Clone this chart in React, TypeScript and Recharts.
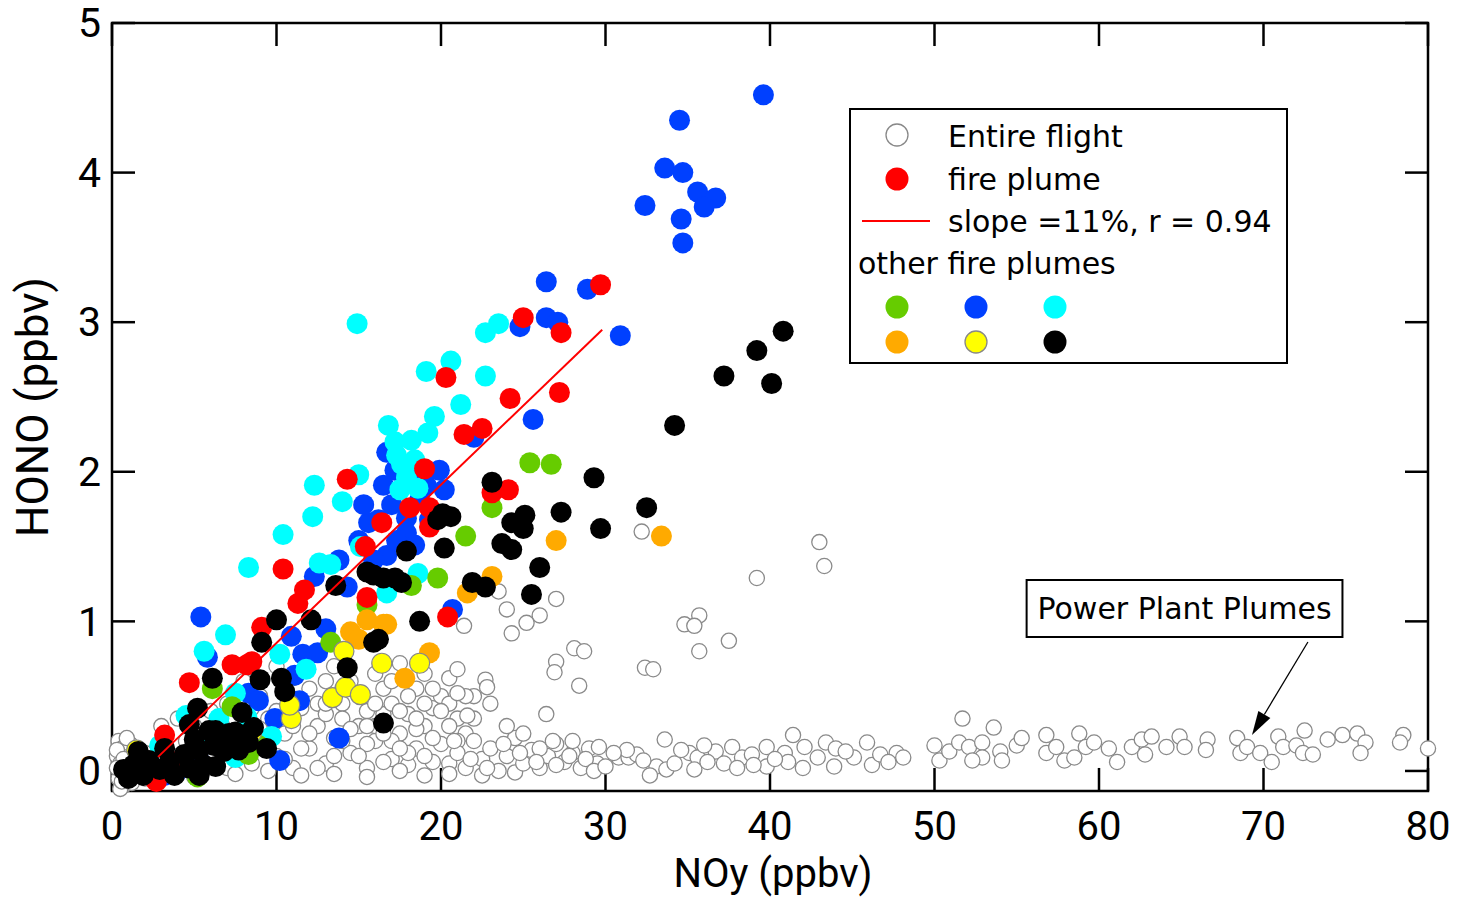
import React from 'react';
import { ScatterChart, Scatter, XAxis, YAxis, ReferenceLine, ReferenceArea, Legend } from 'recharts';

type P = [number, number];

const xTicks = [0, 10, 20, 30, 40, 50, 60, 70, 80];
const yTicks = [0, 1, 2, 3, 4, 5];
const Y_MIN = -0.134;

const entireFlight: P[] = [
  [0.4,0.2],[0.6,0.15],[0.3,0.1],[0.5,0.05],[0.6,0.0],[0.4,-0.05],[0.7,-0.1],[0.9,0.12],[1.0,0.05],[0.8,-0.03],[1.1,0.18],[0.3,0.14],[0.5,-0.12],[1.2,-0.08],[0.9,0.22],[1.4,0.1],[1.3,0.0],[0.7,0.08],[0.3,0.02],[0.6,-0.07],
  [2,0.12],[2.5,0.05],[3,0.18],[3.5,-0.02],[4,0.1],[4.5,0.2],[5,0.02],[5.5,0.15],[6,0.08],[6.5,0.25],[7,0.02],[7.5,0.12],[8,0.3],[8.5,0.05],[9,0.18],[9.5,0.35],[10,0.1],[10.5,0.25],[11,0.02],[11.5,0.42],[12,0.15],[12.5,0.3],[13,0.05],[13.5,0.22],[14,0.45],[14.5,0.12],[15,0.3],[15.5,0.02],[16,0.2],[16.5,0.38],[17,0.08],[17.5,0.25],[18,0.04],[18.5,0.15],[19,0.3],[19.5,0.06],[20,0.18],
  [8,0.6],[9,0.5],[10,0.7],[10.5,0.55],[11,0.62],[11.5,0.78],[12,0.55],[12.5,0.45],[13,0.6],[13.5,0.7],[14,0.35],[14.5,0.6],[15,0.52],[15.5,0.4],[16,0.65],[16.5,0.55],[17,0.45],[17.5,0.72],[18,0.38],[18.5,0.55],[19,0.65],[19.5,0.42],[20,0.5],[20.5,0.62],[21,0.35],
  [9.5,0.2],[10.5,0.08],[11.5,0.15],[12.5,0.02],[13.5,0.1],[14.5,0.28],[15.5,0.18],[16.5,0.06],[17.5,0.4],[18.5,0.28],[19.5,0.22],[20.5,0.05],
  [6,0.4],[7,0.45],[7.5,0.35],[8.5,0.42],[9,0.28],[6.5,0.15],[5,0.3],[4,0.35],[3,0.3],
  [2,-0.05],[5,-0.04],[7.5,-0.02],[9.5,0.0],[11.5,-0.03],[13.5,-0.02],[15.5,-0.04],[17.5,0.0],[19,-0.03],[20.5,-0.02],[22.5,-0.03],[24.5,-0.01],
  [12,0.25],[13,0.38],[14,0.2],[15,0.1],[16,0.3],[17,0.2],[18,0.12],[19,0.1],[10,0.4],[11,0.3],[8.5,0.2],[7,0.25],
  [18,0.5],[19.5,0.55],[20.5,0.45],[21.5,0.25],[19,0.45],[18.5,0.35],[17,0.6],[16,0.45],[22,0.5],[20,0.4],[21,0.2],[17.5,0.15],[16.5,0.25],[15.5,0.3],[14,0.55],[13,0.45],
  [21,0.12],[21.5,0.02],[22,0.2],[22.5,0.08],[23,0.15],[23.5,0.0],[24,0.1],[24.5,0.22],[25,0.05],[25.5,0.14],[26,0.02],[26.5,0.1],[27,0.18],[27.5,0.06],[28,0.12],[28.5,0.02],[29,0.15],[29.5,0.05],[22,0.35],[23,0.45],[24,0.3],[21.5,0.5],[20.5,0.3],[25,0.25],[26,0.15],[27,0.04],[28,0.2],
  [20.8,0.2],[21.8,0.08],[22.8,0.02],[23.8,0.18],[24.8,0.12],[25.8,0.06],[26.8,0.2],[27.8,0.1],[28.8,0.08],[29.3,0.0],
  [32.2,1.6],[43.0,1.53],[43.3,1.37],[39.2,1.29],[35.7,1.04],[34.8,0.98],[35.4,0.97],[37.5,0.87],[35.7,0.8],[32.4,0.69],[32.9,0.68],[28.1,0.82],[28.7,0.8],[27.0,1.15],[26.0,1.04],[25.2,0.99],[24.3,0.92],[24.0,1.08],[23.5,1.2],[21.4,0.97],[27.0,0.73],[26.9,0.66],[28.4,0.57],[26.4,0.38],[21.0,0.68],[22.7,0.61],[22.8,0.56],[21.0,0.52],[21.6,0.37],
  [29.6,0.16],[30.0,0.03],[30.8,0.09],[31.4,0.09],[31.9,0.11],[31.3,0.14],[33.1,0.03],[32.7,-0.03],[33.6,0.21],[33.7,0.01],[34.2,0.05],[35.1,0.12],[35.6,0.09],[35.4,0.01],[36.7,0.13],[37.2,0.05],[37.7,0.16],[38.3,0.09],[38.9,0.11],[39.8,0.16],[39.8,0.03],[40.9,0.12],[41.4,0.24],[41.1,0.06],[42.1,0.16],[42.0,0.02],[42.9,0.09],[43.4,0.19],[44.0,0.15],[43.9,0.03],[45.1,0.09],[45.9,0.19],[46.2,0.04],[46.7,0.11],[47.7,0.12],[48.1,0.09],
  [30.5,0.12],[32.3,0.07],[34.6,0.14],[36.2,0.06],[38.0,0.02],[40.3,0.08],[44.6,0.13],[47.2,0.06],[36.0,0.17],[39.0,0.04],
  [50.0,0.17],[50.3,0.07],[50.9,0.13],[51.5,0.19],[52.1,0.16],[52.9,0.19],[54.0,0.13],[55.0,0.17],[55.3,0.22],[52.9,0.09],[52.3,0.07],[54.1,0.07],[56.8,0.24],[56.8,0.12],[57.4,0.16],[57.9,0.07],[58.8,0.25],[59.2,0.16],[59.7,0.19],[58.5,0.09],[60.6,0.15],[61.1,0.06],[62.0,0.16],[62.6,0.21],[63.2,0.23],[62.8,0.11],[64.1,0.16],[64.9,0.23],[65.2,0.16],[66.6,0.21],[66.5,0.14],[68.4,0.22],[68.6,0.12],[69.0,0.16],[69.8,0.12],[70.5,0.06],[70.9,0.23],[71.2,0.16],[72.0,0.17],[72.5,0.27],[72.4,0.12],[73.0,0.11],[73.9,0.21],[74.8,0.24],[75.7,0.25],[76.2,0.19],[75.9,0.12],[78.5,0.24],[78.3,0.19],[80.0,0.15],[51.7,0.35],[53.6,0.29],
];

const bluePlume: P[] = [
  [39.6,4.52],[34.5,4.35],[33.6,4.03],[34.7,4.0],[35.6,3.87],[36.7,3.83],[36.0,3.77],[32.4,3.78],[34.6,3.69],[34.7,3.53],
  [26.4,3.27],[28.9,3.22],[24.8,2.97],[26.4,3.03],[27.1,3.0],[30.9,2.91],[25.6,2.35],[22.0,2.23],
  [16.7,2.13],[16.5,1.91],[19.1,1.91],[15.6,1.66],[17.9,1.69],[17.9,1.59],[16.7,1.44],[12.3,1.3],[14.3,1.23],[5.4,1.03],[10.9,0.9],[13.0,0.95],[5.8,0.76],[11.6,0.78],[12.5,0.79],[8.3,0.52],[9.9,0.35],[13.8,0.22],[20.7,1.08],
  [17.2,2.01],[18.1,1.95],[18.7,1.81],[17.0,1.78],[16.2,1.68],[17.3,1.54],[18.4,1.51],[15.0,1.54],[15.9,1.41],[15.3,1.78],[13.8,1.41],[19.3,1.68],[19.9,2.01],[20.2,1.88],
  [11.1,0.64],[8.9,0.47],[6.8,0.21],[5.3,0.07],[3.2,-0.03],[10.2,0.07],[11.4,0.47],[3.9,-0.01],[5.1,-0.01],
];

const cyanPlume: P[] = [
  [14.9,2.99],[22.7,2.93],[23.5,2.99],[20.6,2.74],[19.1,2.67],[22.7,2.64],[21.2,2.45],[19.6,2.37],[16.8,2.31],[19.2,2.26],[18.2,2.21],[17.2,2.2],[17.6,2.05],[18.4,2.08],[17.9,1.96],[17.5,1.88],[18.6,1.89],[17.3,2.11],[12.3,1.91],[15.0,1.98],[14.0,1.8],[12.2,1.7],[10.4,1.58],[15.1,1.5],[8.3,1.36],[12.6,1.39],[13.3,1.38],[18.6,1.32],[16.7,1.19],[6.9,0.91],[5.6,0.8],[10.2,0.78],[11.8,0.68],[7.5,0.52],[4.5,0.37],[6.5,0.35],[8.2,0.36],[7.5,0.09],[2.9,0.17],[5.3,0.17],[9.7,0.23],
];

const greenPlume: P[] = [
  [25.4,2.06],[26.7,2.05],[23.1,1.76],[21.5,1.57],[19.8,1.29],[18.2,1.24],[15.5,1.11],[13.3,0.86],[6.1,0.55],[7.3,0.43],[8.3,0.11],[5.2,-0.04],[1.6,0.07],[8.9,0.17],
];

const orangePlume: P[] = [
  [33.4,1.57],[27.0,1.54],[23.1,1.3],[21.6,1.19],[16.7,0.98],[14.5,0.93],[15.5,1.01],[16.5,0.98],[19.3,0.79],[17.8,0.62],[15.0,0.88],
];

const yellowPlume: P[] = [
  [14.1,0.8],[16.4,0.72],[13.4,0.49],[14.2,0.56],[15.1,0.51],[10.9,0.35],[10.8,0.44],[8.5,0.26],[1.5,0.14],[18.7,0.72],[1.2,0.0],
];

const firePlume: P[] = [
  [29.7,3.25],[25.0,3.03],[27.3,2.93],[20.3,2.63],[24.2,2.49],[27.2,2.53],[21.4,2.25],[22.5,2.29],[19.0,2.02],[23.1,1.86],[24.1,1.88],[18.1,1.76],[19.3,1.76],[14.3,1.95],[16.4,1.66],[19.3,1.63],[15.4,1.5],[10.4,1.35],[11.7,1.21],[11.3,1.12],[15.5,1.16],[20.4,1.03],[9.1,0.96],[7.3,0.71],[8.2,0.71],[8.5,0.73],[4.7,0.59],[3.2,0.24],[2.7,-0.07],[4.1,0.07],[1.6,0.01],
];

const blackPlume: P[] = [
  [40.8,2.94],[39.2,2.81],[37.2,2.64],[40.1,2.59],[34.2,2.31],[29.3,1.96],[32.5,1.76],[29.7,1.62],[27.3,1.73],[25.1,1.71],[24.3,1.66],[25.0,1.62],[23.1,1.93],[23.7,1.52],[24.3,1.48],[26.0,1.36],[25.5,1.18],[21.9,1.26],[22.7,1.23],[20.2,1.49],[17.9,1.47],[20.1,1.72],[19.8,1.68],[20.6,1.7],[17.2,1.29],[17.6,1.26],[16.5,1.29],[15.5,1.33],[15.9,1.31],[13.6,1.24],[18.7,1.0],[16.2,0.88],[14.3,0.69],[15.9,0.86],[10.0,1.01],[12.1,1.01],[9.1,0.86],[9.0,0.61],[10.3,0.62],[10.5,0.53],[6.1,0.62],[5.2,0.42],[7.9,0.39],[4.7,0.31],[6.3,0.27],[7.1,0.25],[7.5,0.26],[9.4,0.15],[16.5,0.32],[6.3,0.03],
  [0.7,0.01],[1.3,0.04],[1.9,-0.03],[2.25,0.07],[2.9,0.01],[3.5,0.06],[3.8,-0.03],[4.4,0.11],[4.7,0.02],[5.3,0.14],[5.6,0.04],[6.2,0.17],[6.8,0.13],[7.1,0.21],[7.7,0.14],[8.0,0.24],[8.6,0.29],[1.0,-0.05],[1.6,0.13],[3.2,0.15],[5.0,0.21],[5.9,0.27],[8.3,0.19],[5.3,-0.03],
];

const fitLine: P[] = [[2.8, 0.094], [29.8, 2.95]];

const arrowFrom = { x: 72.7, y: 0.862 };
const arrowTo = { x: 69.3, y: 0.24 };
const noteBox = { x1: 55.6, x2: 74.8, y1: 0.896, y2: 1.277 };

const toPts = (a: P[]) => a.map(([x, y]) => ({ x, y }));

const AXIS_FONT = 'Roboto';
const LEG_FONT = 'DejaVu Sans';

const dot = (fill: string, r: number, stroke = 'none', sw = 0) => (p: any) => (
  <circle cx={p.cx} cy={p.cy} r={r} fill={fill} stroke={stroke} strokeWidth={sw} />
);

const Arrow = (p: any) => {
  const { x1, y1, x2, y2 } = p;
  const dx = x2 - x1;
  const dy = y2 - y1;
  const len = Math.hypot(dx, dy) || 1;
  const ux = dx / len;
  const uy = dy / len;
  const hl = 24;
  const hw = 7;
  const bx = x2 - ux * hl;
  const by = y2 - uy * hl;
  const pts = `${x2},${y2} ${bx - uy * hw},${by + ux * hw} ${bx + uy * hw},${by - ux * hw}`;
  return (
    <g>
      <line x1={x1} y1={y1} x2={bx} y2={by} stroke="#000" strokeWidth={1.3} />
      <polygon points={pts} fill="#000" />
    </g>
  );
};

const XTick = (p: any) => (
  <text x={p.x} y={p.y} dy={25} textAnchor="middle" fontFamily={AXIS_FONT} fontSize={40} fill="#000">
    {p.payload.value}
  </text>
);

const YTick = (p: any) => (
  <text x={p.x} y={p.y} dy={14.3} textAnchor="end" fontFamily={AXIS_FONT} fontSize={41} fill="#000">
    {p.payload.value}
  </text>
);

const XTitle = (p: any) => {
  const vb = p.viewBox;
  return (
    <text x={vb.x + vb.width / 2 + 3} y={vb.y + vb.height - 10.5} textAnchor="middle" fontFamily={AXIS_FONT} fontSize={40} fill="#000">
      NOy (ppbv)
    </text>
  );
};

const YTitle = (p: any) => {
  const vb = p.viewBox;
  const cx = vb.x + 32;
  const cy = vb.y + vb.height / 2;
  return (
    <text x={cx} y={cy} dy={15.6} textAnchor="middle" transform={`rotate(-90, ${cx}, ${cy})`} fontFamily={AXIS_FONT} fontSize={44} fill="#000">
      HONO (ppbv)
    </text>
  );
};

const NoteLabel = (p: any) => {
  const vb = p.viewBox;
  return (
    <text x={vb.x + vb.width / 2} y={vb.y + vb.height / 2} dy={11} textAnchor="middle" fontFamily={LEG_FONT} fontSize={30} fill="#000">
      Power Plant Plumes
    </text>
  );
};

const LegendBox = () => (
  <svg width={439} height={256} style={{ display: 'block' }}>
    <rect x={1} y={1} width={437} height={254} fill="#fff" stroke="#000" strokeWidth={2} />
    <g fontFamily={LEG_FONT} fontSize={30} fill="#000">
      <circle cx={48} cy={27} r={11} fill="#fff" stroke="#888" strokeWidth={1.3} />
      <text x={99} y={38.5}>Entire flight</text>
      <circle cx={48} cy={71} r={11.5} fill="#ff0000" />
      <text x={99} y={82}>fire plume</text>
      <line x1={13} x2={81} y1={113} y2={113} stroke="#ff0000" strokeWidth={2} />
      <text x={99} y={124}>slope =11%, r = 0.94</text>
      <text x={9} y={166}>other fire plumes</text>
      <circle cx={48} cy={199} r={11.5} fill="#66cc00" />
      <circle cx={127} cy={199} r={11.5} fill="#0040ff" />
      <circle cx={206} cy={199} r={11.5} fill="#00ffff" />
      <circle cx={48} cy={234} r={11.5} fill="#ffaa00" />
      <circle cx={127} cy={234} r={11} fill="#ffff00" stroke="#888" strokeWidth={1.3} />
      <circle cx={206} cy={234} r={11.5} fill="#000" />
    </g>
  </svg>
);

const TICK_X = 1.4;
const TICK_Y = 0.154;

export default function App() {
  return (
    <div style={{ position: 'absolute', left: 0, top: 0, width: 1466, height: 897, background: '#fff' }}>
      <ScatterChart width={1466} height={897} margin={{ top: 23, right: 38, bottom: 0, left: 0 }}>
        <XAxis
          type="number"
          dataKey="x"
          domain={[0, 80]}
          ticks={xTicks}
          height={106}
          tickSize={0}
          tickMargin={24}
          axisLine={false}
          tickLine={false}
          tick={XTick}
          label={{ content: XTitle }}
        />
        <YAxis
          type="number"
          dataKey="y"
          domain={[Y_MIN, 5]}
          ticks={yTicks}
          width={112}
          tickSize={0}
          tickMargin={11}
          axisLine={false}
          tickLine={false}
          tick={YTick}
          label={{ content: YTitle }}
        />
        <ReferenceArea x1={0} x2={80} y1={Y_MIN} y2={5} fill="none" stroke="#000" strokeWidth={2.5} ifOverflow="visible" />
        {yTicks.map((v) => (
          <ReferenceLine key={'yl' + v} segment={[{ x: 0, y: v }, { x: TICK_X, y: v }]} stroke="#000" strokeWidth={2.5} ifOverflow="visible" />
        ))}
        {yTicks.map((v) => (
          <ReferenceLine key={'yr' + v} segment={[{ x: 80 - TICK_X, y: v }, { x: 80, y: v }]} stroke="#000" strokeWidth={2.5} ifOverflow="visible" />
        ))}
        {xTicks.map((v) => (
          <ReferenceLine key={'xb' + v} segment={[{ x: v, y: Y_MIN }, { x: v, y: Y_MIN + TICK_Y }]} stroke="#000" strokeWidth={2.5} ifOverflow="visible" />
        ))}
        {xTicks.map((v) => (
          <ReferenceLine key={'xt' + v} segment={[{ x: v, y: 5 - TICK_Y }, { x: v, y: 5 }]} stroke="#000" strokeWidth={2.5} ifOverflow="visible" />
        ))}
        <Scatter name="Entire flight" data={toPts(entireFlight)} shape={dot('#fff', 7.6, '#8a8a8a', 1.3)} isAnimationActive={false} />
        <Scatter name="blue" data={toPts(bluePlume)} shape={dot('#0040ff', 10.5)} isAnimationActive={false} />
        <Scatter name="cyan" data={toPts(cyanPlume)} shape={dot('#00ffff', 10.5)} isAnimationActive={false} />
        <Scatter name="green" data={toPts(greenPlume)} shape={dot('#66cc00', 10.5)} isAnimationActive={false} />
        <Scatter name="orange" data={toPts(orangePlume)} shape={dot('#ffaa00', 10.5)} isAnimationActive={false} />
        <Scatter name="yellow" data={toPts(yellowPlume)} shape={dot('#ffff00', 10, '#888', 1.2)} isAnimationActive={false} />
        <Scatter name="fire plume" data={toPts(firePlume)} shape={dot('#ff0000', 10.5)} isAnimationActive={false} />
        <Scatter name="black" data={toPts(blackPlume)} shape={dot('#000', 10.5)} isAnimationActive={false} />
        <Scatter name="fit" data={toPts(fitLine)} line={{ stroke: '#ff0000', strokeWidth: 2 }} shape={() => <g />} isAnimationActive={false} />
        <ReferenceArea
          x1={noteBox.x1}
          x2={noteBox.x2}
          y1={noteBox.y1}
          y2={noteBox.y2}
          fill="#fff"
          fillOpacity={1}
          stroke="#000"
          strokeWidth={2}
          ifOverflow="visible"
          label={{ content: NoteLabel }}
        />
        <ReferenceLine segment={[arrowFrom, arrowTo]} shape={Arrow} ifOverflow="visible" />
        <Legend
          layout="horizontal"
          verticalAlign="middle"
          align="center"
          wrapperStyle={{ left: 849, top: 108, width: 439, height: 256 }}
          content={() => <LegendBox />}
        />
      </ScatterChart>
    </div>
  );
}
